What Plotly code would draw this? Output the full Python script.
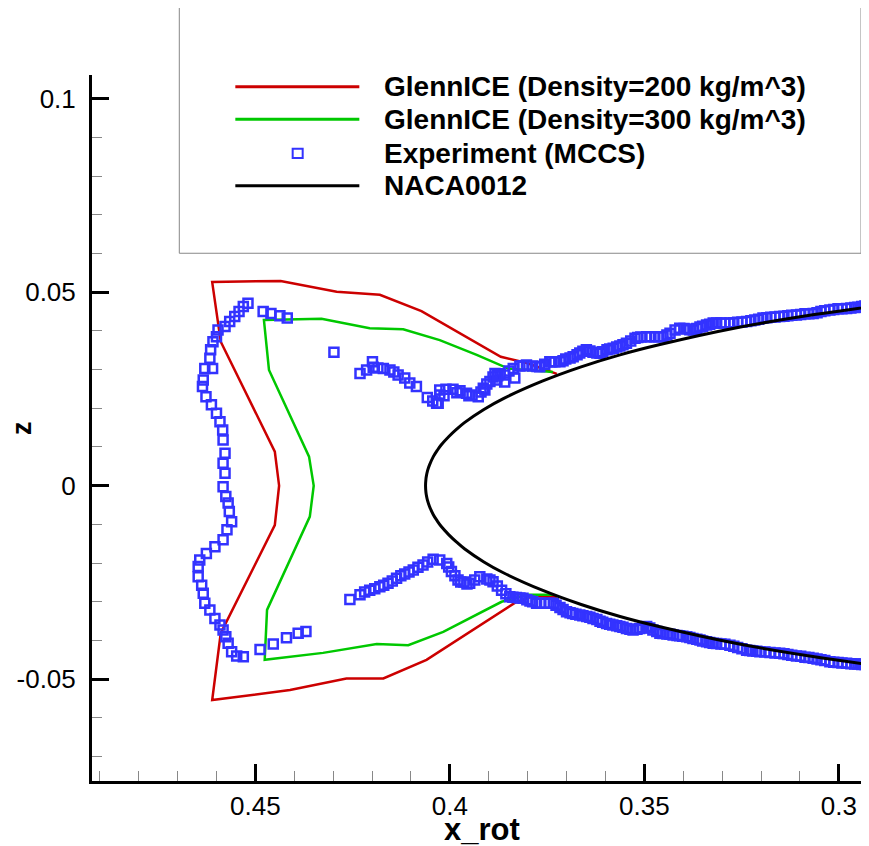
import plotly.graph_objects as go

# GlennICE ice shape, density 200 kg/m^3
red_x = [0.3725, 0.3802, 0.3869, 0.4073, 0.4180, 0.4291, 0.4435, 0.4611, 0.4589, 0.4450, 0.4439,
         0.4450, 0.4589, 0.4611, 0.4411, 0.4266, 0.4171, 0.4060, 0.3833, 0.3787, 0.3725]
red_z = [0.0289, 0.0317, 0.0333, 0.0451, 0.0493, 0.0501, 0.0529, 0.0526, 0.0372, 0.0088, 0.0,
         -0.0102, -0.0381, -0.0554, -0.0528, -0.0498, -0.0498, -0.0450, -0.0303, -0.0285, -0.0288]

# GlennICE ice shape, density 300 kg/m^3
green_x = [0.3735, 0.3851, 0.3931, 0.4026, 0.4120, 0.4206, 0.4330, 0.4420, 0.4478, 0.4465, 0.4362,
           0.4350, 0.4360, 0.4470, 0.4476, 0.4326, 0.4188, 0.4107, 0.4017, 0.3867, 0.3803, 0.3735]
green_z = [0.0294, 0.0303, 0.0338, 0.0376, 0.0404, 0.0407, 0.0431, 0.0430, 0.0428, 0.0299, 0.0075,
           0.0, -0.0080, -0.0321, -0.0450, -0.0432, -0.0409, -0.0412, -0.0378, -0.0300, -0.0282, -0.0282]

# Experiment (MCCS) tracing
exp_x = [
    # outer feather, top to bottom
    0.4519, 0.4531, 0.4542, 0.4553, 0.4566, 0.4578, 0.4596, 0.4600, 0.4609, 0.4615, 0.4617,
    0.4630, 0.4610, 0.4634, 0.4636, 0.4627, 0.4613, 0.4600, 0.4591, 0.4584, 0.4583, 0.4578,
    0.4583, 0.4578, 0.4583, 0.4576, 0.4570, 0.4567, 0.4561, 0.4573, 0.4583, 0.4604, 0.4626,
    0.4643, 0.4647, 0.4647, 0.4638, 0.4634, 0.4630, 0.4617, 0.4604, 0.4591, 0.4583, 0.4576,
    0.4570, 0.4561, 0.4548, 0.4531,
    # upper inner
    0.4480, 0.4460, 0.4437, 0.4418, 0.4298,
    0.4231, 0.4214, 0.4199, 0.4197, 0.4185, 0.4171, 0.4154, 0.4144, 0.4133, 0.4116, 0.4103, 0.4086,
    # upper surface
    0.4058, 0.4034, 0.4030, 0.4026, 0.4026, 0.4010, 0.3992, 0.3974, 0.3957, 0.3943, 0.3927,
    0.3920, 0.3914, 0.3905, 0.3897, 0.3889, 0.3884, 0.3879, 0.3871, 0.3859, 0.3859, 0.3848,
    0.3837, 0.3833, 0.3820, 0.3803, 0.3787, 0.3769, 0.3756, 0.3743, 0.3730, 0.3717, 0.3702,
    0.3683, 0.3666, 0.3649, 0.3632, 0.3614, 0.3596, 0.3580, 0.3563, 0.3546, 0.3524, 0.3509,
    0.3494, 0.3473, 0.3452, 0.3434, 0.3421, 0.3409, 0.3391, 0.3374, 0.3357, 0.3340, 0.3323,
    0.3303, 0.3280, 0.3260, 0.3237, 0.3216, 0.3195, 0.3175, 0.3152, 0.3131, 0.3109, 0.3087,
    0.3066, 0.3046, 0.3023, 0.3002, 0.2980, 0.2959, 0.2941, 0.2925,
    0.4044, 0.4015, 0.3982, 0.3951, 0.3910, 0.3877,
    0.3812, 0.3776, 0.3738, 0.3709, 0.3691, 0.3673, 0.3658, 0.3640, 0.3622, 0.3607, 0.3589,
    0.3571, 0.3555, 0.3535, 0.3517, 0.3483, 0.3463, 0.3442, 0.3398, 0.3383, 0.3365, 0.3350,
    0.3332, 0.3314, 0.3293, 0.3270, 0.3249, 0.3226, 0.3206, 0.3185, 0.3164, 0.3141, 0.3121,
    0.3098, 0.3077, 0.3056, 0.3036, 0.3013, 0.2992, 0.2969, 0.2951, 0.2933,
    # lower inner
    0.4257, 0.4231, 0.4219, 0.4206, 0.4193, 0.4180, 0.4170, 0.4159, 0.4148, 0.4137, 0.4126,
    0.4116, 0.4105, 0.4094, 0.4082, 0.4069, 0.4057, 0.4043, 0.4026,
    0.4488, 0.4454, 0.4420, 0.4390, 0.4370,
    # lower surface
    0.4008, 0.4003, 0.3996, 0.3987, 0.3979, 0.3964, 0.3949, 0.3936, 0.3923, 0.3905, 0.3889,
    0.3878, 0.3867, 0.3856, 0.3846, 0.3829, 0.3812, 0.3794, 0.3777, 0.3756, 0.3734, 0.3717,
    0.3700, 0.3684, 0.3666, 0.3648, 0.3632, 0.3614, 0.3597, 0.3581, 0.3563, 0.3546, 0.3529,
    0.3512, 0.3494, 0.3478, 0.3460, 0.3442, 0.3426, 0.3409, 0.3391, 0.3375, 0.3357, 0.3340,
    0.3323, 0.3303, 0.3280, 0.3260, 0.3237, 0.3221, 0.3203, 0.3177, 0.3152, 0.3131, 0.3109,
    0.3087, 0.3066, 0.3046, 0.3023, 0.3002, 0.2980, 0.2959, 0.2941, 0.2925,
    0.3972, 0.3956, 0.3897, 0.3838, 0.3820, 0.3802, 0.3787,
    0.3766, 0.3745, 0.3727, 0.3709, 0.3691, 0.3676, 0.3658, 0.3640, 0.3622, 0.3607, 0.3589,
    0.3571, 0.3555, 0.3537, 0.3519, 0.3504, 0.3486, 0.3468, 0.3452, 0.3434, 0.3416, 0.3401,
    0.3383, 0.3365, 0.3350, 0.3332, 0.3314, 0.3293, 0.3270, 0.3249, 0.3229, 0.3211, 0.3190,
    0.3164, 0.3141, 0.3121, 0.3098, 0.3077, 0.3056, 0.3036, 0.3013, 0.2992, 0.2969, 0.2951, 0.2933,
]
exp_z = [
    0.0471, 0.0463, 0.0450, 0.0437, 0.0424, 0.0411, 0.0402, 0.0385, 0.0372, 0.0351, 0.0329,
    0.0303, 0.0303, 0.0273, 0.0256, 0.0230, 0.0209, 0.0187, 0.0165, 0.0144, 0.0118, 0.0084,
    0.0058, 0.0032, -0.0003, -0.0028, -0.0045, -0.0067, -0.0093, -0.0114, -0.0140, -0.0158, -0.0175,
    -0.0192, -0.0209, -0.0235, -0.0257, -0.0278, -0.0304, -0.0321, -0.0343, -0.0360, -0.0373, -0.0390,
    -0.0407, -0.0429, -0.0440, -0.0442,
    0.0450, 0.0445, 0.0439, 0.0433, 0.0345,
    0.0290, 0.0299, 0.0320, 0.0306, 0.0304, 0.0303, 0.0299, 0.0294, 0.0286, 0.0278, 0.0265, 0.0256,
    0.0228, 0.0213, 0.0213, 0.0234, 0.0247, 0.0249, 0.0249, 0.0245, 0.0239, 0.0234, 0.0230,
    0.0242, 0.0252, 0.0263, 0.0269, 0.0281, 0.0290, 0.0273, 0.0289, 0.0286, 0.0268, 0.0296,
    0.0303, 0.0278, 0.0309, 0.0312, 0.0309, 0.0307, 0.0314, 0.0320, 0.0320, 0.0320, 0.0327,
    0.0333, 0.0343, 0.0351, 0.0345, 0.0342, 0.0351, 0.0355, 0.0361, 0.0368, 0.0381, 0.0384,
    0.0385, 0.0385, 0.0385, 0.0394, 0.0402, 0.0407, 0.0405, 0.0402, 0.0410, 0.0415, 0.0420,
    0.0420, 0.0420, 0.0422, 0.0424, 0.0428, 0.0433, 0.0435, 0.0437, 0.0439, 0.0441, 0.0444,
    0.0445, 0.0450, 0.0454, 0.0457, 0.0458, 0.0460, 0.0463, 0.0466,
    0.0219, 0.0232, 0.0240, 0.0232, 0.0247, 0.0284,
    0.0310, 0.0308, 0.0320, 0.0323, 0.0330, 0.0338, 0.0347, 0.0348, 0.0343, 0.0346, 0.0353,
    0.0358, 0.0364, 0.0374, 0.0383, 0.0385, 0.0385, 0.0389, 0.0406, 0.0403, 0.0406, 0.0412,
    0.0417, 0.0420, 0.0420, 0.0421, 0.0423, 0.0426, 0.0430, 0.0434, 0.0436, 0.0438, 0.0440,
    0.0442, 0.0444, 0.0447, 0.0452, 0.0455, 0.0457, 0.0459, 0.0461, 0.0464,
    -0.0294, -0.0282, -0.0275, -0.0270, -0.0266, -0.0261, -0.0257, -0.0252, -0.0246, -0.0239, -0.0233,
    -0.0228, -0.0223, -0.0218, -0.0211, -0.0205, -0.0197, -0.0190, -0.0192,
    -0.0423, -0.0409, -0.0393, -0.0381, -0.0377,
    -0.0201, -0.0210, -0.0222, -0.0233, -0.0244, -0.0249, -0.0252, -0.0244, -0.0235, -0.0241, -0.0248,
    -0.0259, -0.0270, -0.0279, -0.0287, -0.0289, -0.0291, -0.0298, -0.0304, -0.0304, -0.0304, -0.0315,
    -0.0326, -0.0330, -0.0334, -0.0338, -0.0343, -0.0350, -0.0356, -0.0360, -0.0364, -0.0369, -0.0373,
    -0.0369, -0.0364, -0.0373, -0.0381, -0.0383, -0.0386, -0.0388, -0.0390, -0.0395, -0.0399, -0.0403,
    -0.0407, -0.0409, -0.0412, -0.0418, -0.0425, -0.0427, -0.0429, -0.0431, -0.0433, -0.0436, -0.0440,
    -0.0443, -0.0446, -0.0450, -0.0455, -0.0457, -0.0459, -0.0461, -0.0462, -0.0463,
    -0.0249, -0.0254, -0.0244, -0.0288, -0.0290, -0.0295, -0.0300,
    -0.0304, -0.0304, -0.0309, -0.0320, -0.0328, -0.0332, -0.0336, -0.0340, -0.0346, -0.0353, -0.0358,
    -0.0362, -0.0366, -0.0371, -0.0371, -0.0367, -0.0368, -0.0377, -0.0382, -0.0384, -0.0387, -0.0389,
    -0.0392, -0.0397, -0.0401, -0.0405, -0.0408, -0.0410, -0.0415, -0.0421, -0.0426, -0.0428, -0.0430,
    -0.0432, -0.0434, -0.0438, -0.0441, -0.0444, -0.0448, -0.0452, -0.0456, -0.0458, -0.0460, -0.0461, -0.0462,
]

# NACA0012 leading-edge region (upper surface -> nose -> lower surface)
naca_x = [0.28625, 0.30625, 0.32625, 0.34625, 0.35625, 0.36625, 0.37625, 0.38625, 0.39125, 0.39625,
          0.39825, 0.40025, 0.40225, 0.40325, 0.40425, 0.40525, 0.40575, 0.40605, 0.40615, 0.40625,
          0.40615, 0.40605, 0.40575, 0.40525, 0.40425, 0.40325, 0.40225, 0.40025, 0.39825, 0.39625,
          0.39125, 0.38625, 0.37625, 0.36625, 0.35625, 0.34625, 0.32625, 0.30625, 0.28625]
naca_z = [0.0470, 0.0442, 0.0408, 0.0364, 0.0338, 0.0307, 0.0270, 0.0225, 0.0197, 0.0163,
          0.0146, 0.0127, 0.0105, 0.0091, 0.0075, 0.0053, 0.0038, 0.0024, 0.0017, 0.0,
          -0.0017, -0.0024, -0.0038, -0.0053, -0.0075, -0.0091, -0.0105, -0.0127, -0.0146, -0.0163,
          -0.0197, -0.0225, -0.0270, -0.0307, -0.0338, -0.0364, -0.0408, -0.0442, -0.0470]

x_ticks = [0.45, 0.4, 0.35, 0.3]
x_tick_labels = ["0.45", "0.4", "0.35", "0.3"]
z_ticks = [0.1, 0.05, 0.0, -0.05]
z_tick_labels = ["0.1", "0.05", "0", "-0.05"]

legend_labels = [
    "GlennICE (Density=200 kg/m^3)",
    "GlennICE (Density=300 kg/m^3)",
    "Experiment (MCCS)",
    "NACA0012",
]

RED = "#cc0000"
GREEN = "#00c800"
BLUE = "#3333ff"
FONT = "Liberation Sans"

fig = go.Figure()
fig.add_trace(go.Scatter(x=red_x, y=red_z, mode="lines", line=dict(color=RED, width=2.5)))
fig.add_trace(go.Scatter(x=green_x, y=green_z, mode="lines", line=dict(color=GREEN, width=2.5)))
fig.add_trace(go.Scatter(
    x=exp_x, y=exp_z, mode="markers",
    marker=dict(symbol="square-open", size=9, color=BLUE, line=dict(color=BLUE, width=2.5)),
))
fig.add_trace(go.Scatter(x=naca_x, y=naca_z, mode="lines", line=dict(color="black", width=3, shape="spline")))

# Hand-drawn legend box (Tecplot style)
shapes = [dict(type="rect", xref="paper", yref="paper", x0=0.1125, x1=0.991, y0=0.7475, y1=1.0977,
               line=dict(color="#888888", width=1), fillcolor="white", layer="above")]
row_y = [0.9834, 0.9373, 0.8891, 0.8432]
line_colors = [RED, GREEN, None, "black"]
annotations = []
for yy, col, label in zip(row_y, line_colors, legend_labels):
    if col is None:
        shapes.append(dict(type="rect", xref="paper", yref="paper", x0=0.2586, x1=0.2715,
                           y0=yy - 0.0066, y1=yy + 0.0066, line=dict(color=BLUE, width=2), layer="above"))
    else:
        shapes.append(dict(type="line", xref="paper", yref="paper", x0=0.1847, x1=0.3445, y0=yy, y1=yy,
                           line=dict(color=col, width=3), layer="above"))
    annotations.append(dict(x=0.3733, y=yy, xref="paper", yref="paper", text=label, showarrow=False,
                            xanchor="left", yanchor="middle",
                            font=dict(family=FONT, size=28, color="black", weight="bold")))

# Axis titles
annotations.append(dict(x=0.5026, y=-0.0680, xref="paper", yref="paper", text="x_rot", showarrow=False,
                        xanchor="center", yanchor="middle",
                        font=dict(family=FONT, size=31, color="black", weight="bold")))
annotations.append(dict(x=-0.0902, y=0.5, xref="paper", yref="paper", text="z", showarrow=False,
                        textangle=-90, xanchor="center", yanchor="middle",
                        font=dict(family=FONT, size=27, color="black", weight="bold")))

# the page body adds an 8px offset, so margins are shifted to compensate
fig.update_layout(
    width=869,
    height=846,
    margin=dict(l=84, r=9, t=67, b=73),
    plot_bgcolor="white",
    paper_bgcolor="white",
    showlegend=False,
    shapes=shapes,
    annotations=annotations,
    font=dict(family=FONT, color="black"),
    xaxis=dict(
        range=[0.4920, 0.2925],
        automargin=False,
        showgrid=False, zeroline=False,
        showline=True, linecolor="black", linewidth=3,
        ticks="inside", ticklen=17, tickwidth=3, tickcolor="black",
        tickmode="array", tickvals=x_ticks, ticktext=x_tick_labels,
        tickfont=dict(family=FONT, size=26, color="black"),
        ticklabelstandoff=0,
        minor=dict(ticks="inside", ticklen=10, tickwidth=1, tickcolor="#888888",
                   tickmode="linear", tick0=0, dtick=0.01),
    ),
    yaxis=dict(
        range=[-0.0763, 0.1061],
        automargin=False,
        showgrid=False, zeroline=False,
        showline=True, linecolor="black", linewidth=3,
        ticks="inside", ticklen=17, tickwidth=3, tickcolor="black",
        tickmode="array", tickvals=z_ticks, ticktext=z_tick_labels,
        tickfont=dict(family=FONT, size=26, color="black"),
        ticklabelstandoff=8,
        minor=dict(ticks="inside", ticklen=10, tickwidth=1, tickcolor="#888888",
                   tickmode="linear", tick0=0, dtick=0.01),
    ),
)

fig.write_html("out.html")
